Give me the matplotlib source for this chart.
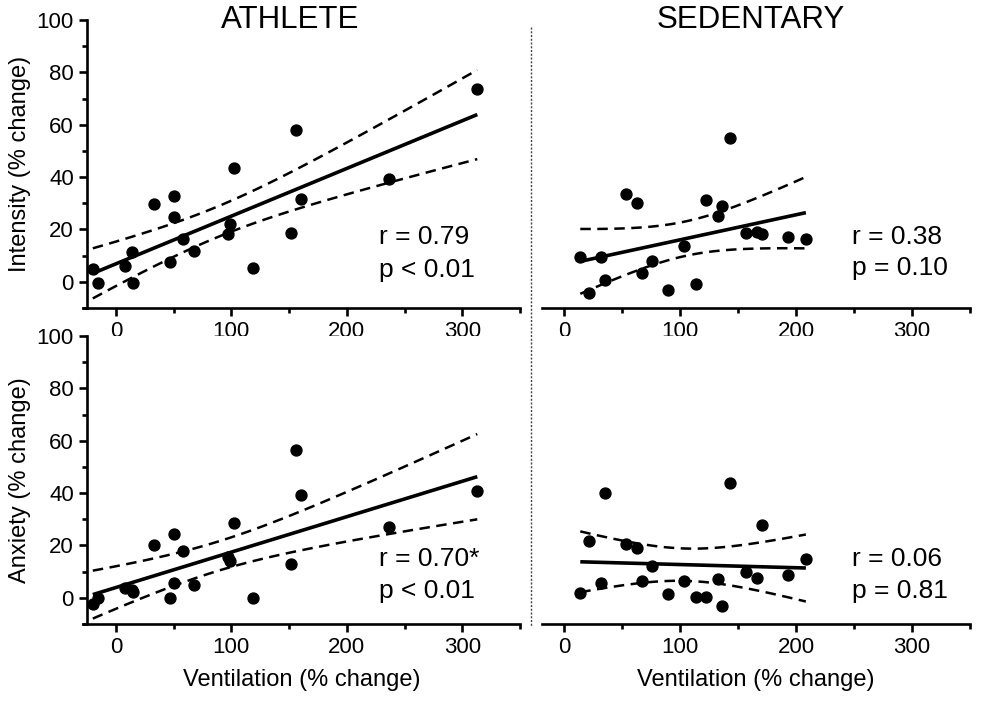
import numpy as np
import matplotlib
matplotlib.use("Agg")
import matplotlib.pyplot as plt
from matplotlib.lines import Line2D
from matplotlib.ticker import MultipleLocator

plt.rcParams["font.family"] = ["Liberation Sans", "DejaVu Sans"]

# --------------------------
# Datos
# --------------------------
athlete_vent = [-20, -15.5, 8, 14, 15, 33, 46.5, 50.5, 50.5, 58.5,
                67.5, 97, 98.5, 102.5, 118.5, 151.5, 156, 160, 236.5, 313]
athlete_intensity = [4.8, -0.3, 6.1, 11.2, -0.5, 29.9, 7.6, 32.7, 24.9, 16.3,
                     11.8, 18.1, 22.1, 43.5, 5.3, 18.8, 57.8, 31.6, 39.2, 73.8]
athlete_anxiety = [-2.5, 0.0, 3.6, 3.0, 2.3, 20.0, 0.0, 24.2, 5.6, 18.0,
                   4.9, 15.7, 14.1, 28.7, 0.0, 12.9, 56.6, 39.3, 26.9, 40.9]

sedentary_vent = [14, 21.5, 32, 35.5, 53.5, 63, 67, 76, 90, 103,
                  114, 122, 132.5, 136, 143, 157, 166, 171, 193, 208.5]
sedentary_intensity = [9.3, -4.1, 9.4, 0.8, 33.6, 30.0, 3.3, 8.1, -3.3, 13.5,
                       -0.9, 31.3, 25.3, 29.0, 54.8, 18.8, 19.2, 18.2, 17.3, 16.5]
sedentary_anxiety = [1.8, 21.7, 5.5, 40.1, 20.7, 19.0, 6.6, 12.2, 1.6, 6.6,
                     0.5, 0.5, 7.0, -3.0, 43.7, 9.9, 7.6, 27.7, 8.6, 14.7]

stats_text = {
    ("ATHLETE", "Intensity"): ("r = 0.79", "p < 0.01"),
    ("ATHLETE", "Anxiety"): ("r = 0.70*", "p < 0.01"),
    ("SEDENTARY", "Intensity"): ("r = 0.38", "p = 0.10"),
    ("SEDENTARY", "Anxiety"): ("r = 0.06", "p = 0.81"),
}

W, H = 982, 704
T_CRIT = 2.101  # t(0.975, gl=18)


def fit_with_band(x, y):
    x = np.asarray(x, float)
    y = np.asarray(y, float)
    n = len(x)
    b, a = np.polyfit(x, y, 1)
    xs = np.linspace(x.min(), x.max(), 100)
    yhat = a + b * xs
    resid = y - (a + b * x)
    s = np.sqrt(np.sum(resid ** 2) / (n - 2))
    sxx = np.sum((x - x.mean()) ** 2)
    se = s * np.sqrt(1.0 / n + (xs - x.mean()) ** 2 / sxx)
    return xs, yhat, yhat - T_CRIT * se, yhat + T_CRIT * se


def panel(rect, x, y, xlim, show_y, ylabel, labels, text_x, text_y):
    ax = fig.add_axes(rect)
    ax.set_xlim(*xlim)
    ax.set_ylim(-10, 100)
    for side in ("top", "right"):
        ax.spines[side].set_visible(False)
    ax.spines["bottom"].set_linewidth(1.9)
    ax.spines["left"].set_linewidth(1.9)
    if show_y:
        ax.spines["left"].set_position(("data", -25))
        ax.yaxis.set_major_locator(MultipleLocator(20))
        ax.yaxis.set_minor_locator(MultipleLocator(10))
        ax.set_ylabel(ylabel, fontsize=17, labelpad=4)
    else:
        ax.spines["left"].set_visible(False)
        ax.set_yticks([])
    ax.set_xticks([0, 100, 200, 300])
    ax.set_xticks([50, 150, 250, 350], minor=True)
    ax.tick_params(which="major", length=6, width=1.9, labelsize=16, pad=3.5)
    ax.tick_params(which="minor", length=3.5, width=1.9)

    xs, yhat, lo, hi = fit_with_band(x, y)
    ax.plot(xs, hi, color="black", lw=1.8, ls=(0, (4.2, 2.6)))
    ax.plot(xs, lo, color="black", lw=1.8, ls=(0, (4.2, 2.6)))
    ax.plot(xs, yhat, color="black", lw=2.6, solid_capstyle="butt")
    ax.scatter(x, y, s=62, color="black", zorder=3, clip_on=False)

    ax.text(text_x, text_y[0], labels[0], fontsize=19, va="center", ha="left")
    ax.text(text_x, text_y[1], labels[1], fontsize=19, va="center", ha="left")
    return ax


fig = plt.figure(figsize=(W / 100, H / 100), dpi=100)

left_l, width_l = 83 / W, 437 / W
left_r, width_r = 542 / W, 428 / W
h = 288 / H
bot_top, bot_bottom = 1 - 308 / H, 1 - 624 / H

panel([left_l, bot_top, width_l, h], athlete_vent, athlete_intensity, (-28.5, 350), True,
      "Intensity (% change)", stats_text[("ATHLETE", "Intensity")], 228, (17.2, 4.6))
ax_bl = panel([left_l, bot_bottom, width_l, h], athlete_vent, athlete_anxiety, (-28.5, 350), True,
              "Anxiety (% change)", stats_text[("ATHLETE", "Anxiety")], 228, (14.7, 2.7))
panel([left_r, bot_top, width_r, h], sedentary_vent, sedentary_intensity, (-19, 350), False,
      "", stats_text[("SEDENTARY", "Intensity")], 248, (17.2, 5.3))
ax_br = panel([left_r, bot_bottom, width_r, h], sedentary_vent, sedentary_anxiety, (-19, 350), False,
              "", stats_text[("SEDENTARY", "Anxiety")], 248, (15.0, 2.7))

ax_bl.set_xlabel("Ventilation (% change)", fontsize=17, labelpad=8)
ax_br.set_xlabel("Ventilation (% change)", fontsize=17, labelpad=8)

fig.text(290 / W, 1 - 20 / H, "ATHLETE", fontsize=22.5, ha="center", va="center")
fig.text(751 / W, 1 - 20 / H, "SEDENTARY", fontsize=22.5, ha="center", va="center")

# línea divisoria punteada
fig.add_artist(Line2D([531 / W, 531 / W], [1 - 27 / H, 1 - 627 / H], transform=fig.transFigure,
                      color="#444444", lw=1.0, ls=(0, (1.5, 1.2))))

fig.savefig("out.png", dpi=100)
